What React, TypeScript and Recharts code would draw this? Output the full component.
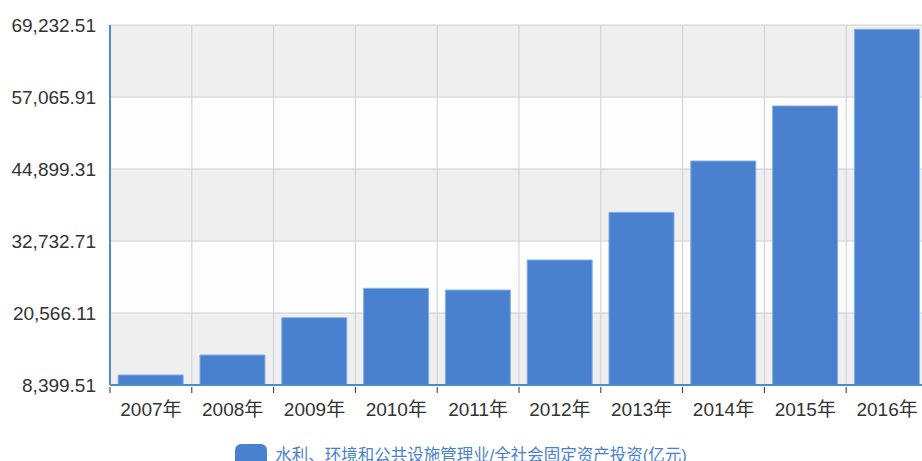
import { BarChart, Bar, XAxis, YAxis, CartesianGrid, Legend } from "recharts";

const YEARS = ["2007年", "2008年", "2009年", "2010年", "2011年", "2012年", "2013年", "2014年", "2015年", "2016年"];
const INVESTMENT = [10090, 13470, 19770, 24740, 24450, 29520, 37580, 46250, 55550, 68510];
const Y_TICKS = [8399.51, 20566.11, 32732.71, 44899.31, 57065.91, 69232.51];
const SERIES_NAME = "水利、环境和公共设施管理业/全社会固定资产投资(亿元)";

const BLUE = "#4a81cf";
const AXIS_BLUE = "#4a8ccc";
const FONT = "'Liberation Sans', Arial, 'Noto Sans CJK SC', sans-serif";

const chartData = YEARS.map((year, i) => ({ year, value: INVESTMENT[i] }));

const fmt = (v: number) =>
  v.toLocaleString("en-US", { minimumFractionDigits: 2, maximumFractionDigits: 2 });

// tick marks sit on the category boundaries, labels in the middle
function YearTick(props: any) {
  const { x, y, width, payload } = props;
  const band = width / YEARS.length;
  const left = x - band / 2;
  return (
    <g>
      <line x1={left} x2={left} y1={387} y2={393} stroke="#333" strokeWidth={1} />
      <text
        x={x}
        y={y}
        dy="0.71em"
        textAnchor="middle"
        fill="#333"
        fontSize={19}
        fontFamily={FONT}
      >
        {payload.value}
      </text>
    </g>
  );
}

function LegendContent() {
  return (
    <div
      style={{
        height: 28,
        display: "flex",
        justifyContent: "center",
        alignItems: "flex-start",
        fontFamily: FONT,
      }}
    >
      <span
        style={{
          display: "inline-block",
          width: 32,
          height: 22,
          borderRadius: 6,
          background: BLUE,
          marginTop: 2,
          marginRight: 8,
        }}
      />
      <span style={{ color: BLUE, fontSize: 16.5, lineHeight: "20px", marginTop: 3 }}>
        {SERIES_NAME}
      </span>
    </div>
  );
}

export default function App() {
  return (
    <div
      style={{
        position: "fixed",
        top: 0,
        left: 0,
        width: 922,
        height: 461,
        overflow: "hidden",
        background: "#fff",
      }}
    >
      <BarChart
        width={930}
        height={470}
        data={chartData}
        margin={{ top: 25, right: 2, left: 0, bottom: 0 }}
        barCategoryGap="10%"
      >
        <CartesianGrid
          stroke="#d0d0d0"
          horizontalFill={["#efefef", "#fdfdfd"]}
          verticalCoordinatesGenerator={({ offset }: any) =>
            YEARS.map((_, i) => offset.left + ((i + 1) * offset.width) / YEARS.length)
          }
        />
        <XAxis
          dataKey="year"
          height={57}
          stroke={AXIS_BLUE}
          axisLine={{ stroke: AXIS_BLUE, strokeWidth: 2 }}
          tickLine={false}
          tickSize={6}
          tickMargin={12}
          interval={0}
          tick={<YearTick />}
        />
        <YAxis
          width={110}
          domain={[Y_TICKS[0], Y_TICKS[Y_TICKS.length - 1]]}
          ticks={Y_TICKS}
          interval={0}
          allowDataOverflow
          axisLine={{ stroke: AXIS_BLUE, strokeWidth: 2 }}
          tickLine={false}
          tickMargin={8}
          tickFormatter={fmt}
          tick={{ fill: "#333", fontSize: 19, fontFamily: FONT }}
        />
        <Legend
          verticalAlign="bottom"
          content={<LegendContent />}
          wrapperStyle={{ left: 0, width: 922 }}
        />
        <Bar
          dataKey="value"
          name={SERIES_NAME}
          fill={BLUE}
          stroke="#86aee6"
          strokeWidth={1}
          isAnimationActive={false}
        />
      </BarChart>
    </div>
  );
}
